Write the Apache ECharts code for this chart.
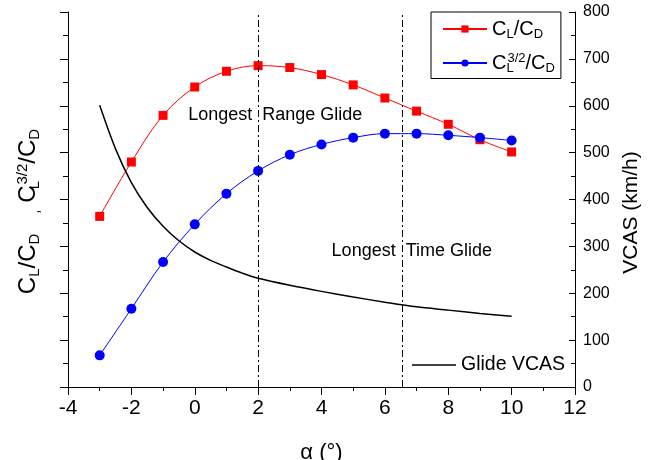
<!DOCTYPE html>
<html>
<head>
<meta charset="utf-8">
<title>Glide performance vs angle of attack</title>
<script src="https://cdn.jsdelivr.net/npm/echarts@6/dist/echarts.min.js"></script>
<style>
  html, body { margin: 0; padding: 0; background: #fff; }
  #chart { width: 671px; height: 460px; }
</style>
</head>
<body>
<div id="chart"></div>
<script>
// angle of attack (deg) for the two ratio curves
const alpha = [-3, -2, -1, 0, 1, 2, 3, 4, 5, 6, 7, 8, 9, 10];
// CL/CD and CL^1.5/CD, read against a hidden 0-16 left scale
const clcd = [7.28, 9.60, 11.59, 12.80, 13.47, 13.71, 13.63, 13.33, 12.89, 12.33, 11.77, 11.21, 10.55, 10.03];
const cl32cd = [1.35, 3.34, 5.33, 6.94, 8.25, 9.22, 9.91, 10.35, 10.64, 10.81, 10.81, 10.74, 10.64, 10.52];

// glide VCAS curve (km/h), right axis
const vcasAlpha = [-3, -2.5, -2, -1.5, -1, -0.5, 0, 0.5, 1, 1.5, 2, 3, 4, 5, 6, 7, 8, 9, 10];
const vcas = [601, 508, 436, 383, 343, 312, 288, 270, 256, 243, 232, 217, 204, 192, 181, 171, 164, 157, 151];

// vertical reference lines
const guideLines = [2, 6.55];

const FONT = 'Liberation Sans, Arial, sans-serif';

function pairs(xs, ys) {
  return xs.map((x, i) => [x, ys[i]]);
}

// rich text pieces for subscripts / superscripts
function richSet(size, sub, shift) {
  return {
    m: { fontSize: size, fontFamily: FONT, color: '#000' },
    s: { fontSize: sub, fontFamily: FONT, color: '#000', padding: [shift * 2, 0, 0, 0] },
    s0: { fontSize: sub, fontFamily: FONT, color: '#000', padding: [shift * 2, 0, 0, 0], width: 1, overflow: 'none' },
    p: { fontSize: sub, fontFamily: FONT, color: '#000', padding: [0, 0, shift * 2, 0] }
  };
}

const labelLD = '{m|C}{s|L}{m|/C}{s|D}';
const labelL32D = '{m|C}{s0|L}{p|3/2}{m|/C}{s|D}';

const chart = echarts.init(document.getElementById('chart'), null, { renderer: 'canvas' });

const option = {
  animation: false,
  backgroundColor: '#fff',
  textStyle: { fontFamily: FONT },
  grid: { left: 68, right: 96, top: 12, bottom: 73, outerBoundsMode: 'none' },
  legend: [
    {
      data: ['cl', 'cl32'],
      orient: 'vertical',
      left: 431,
      top: 12,
      padding: [7, 6, 4, 11],
      itemGap: 11,
      itemWidth: 44,
      itemHeight: 9,
      borderColor: '#000',
      borderWidth: 1,
      formatter: function (name) { return name === 'cl' ? labelLD : labelL32D; },
      textStyle: { rich: richSet(20, 13, 5) }
    },
    {
      data: [{ name: 'vcas', icon: 'rect' }],
      left: 407,
      top: 350,
      itemWidth: 44,
      itemHeight: 1.5,
      itemGap: 6,
      formatter: 'Glide VCAS',
      textStyle: { fontSize: 19.5, color: '#000', fontFamily: FONT }
    }
  ],
  xAxis: {
    type: 'value',
    min: -4,
    max: 12,
    interval: 2,
    name: 'α (°)',
    nameLocation: 'middle',
    nameGap: 55,
    nameTextStyle: { fontSize: 22, color: '#000', fontFamily: FONT },
    axisLine: { show: true, onZero: false, lineStyle: { color: '#000', width: 1 } },
    axisTick: { show: true, length: 8, lineStyle: { color: '#000' } },
    minorTick: { show: true, splitNumber: 2, length: 4, lineStyle: { color: '#000' } },
    splitLine: { show: false },
    axisLabel: { fontSize: 21, color: '#000', margin: 11, fontFamily: FONT }
  },
  yAxis: [
    {
      type: 'value',
      min: 0,
      max: 16,
      interval: 2,
      name: '{m|C}{s|L}{m|/C}{s|D}{m|   }{s|,}{m| C}{s0|L}{p|3/2}{m|/C}{s|D}',
      nameLocation: 'middle',
      nameGap: 26,
      nameTextStyle: { rich: richSet(24, 15, 6), padding: [0, 24, 0, 0] },
      axisLine: { show: true, onZero: false, lineStyle: { color: '#000', width: 1 } },
      axisTick: { show: true, length: 8, lineStyle: { color: '#000' } },
      minorTick: { show: true, splitNumber: 2, length: 5, lineStyle: { color: '#000' } },
      splitLine: { show: false },
      axisLabel: { show: false }
    },
    {
      type: 'value',
      position: 'right',
      min: 0,
      max: 800,
      interval: 100,
      name: 'VCAS (km/h)',
      nameLocation: 'middle',
      nameGap: 43,
      nameRotate: 90,
      nameTextStyle: { fontSize: 21, color: '#000', fontFamily: FONT, padding: [0, 26, 0, 0] },
      axisLine: { show: true, onZero: false, lineStyle: { color: '#000', width: 1 } },
      axisTick: { show: true, inside: true, length: 6, lineStyle: { color: '#000' } },
      minorTick: { show: true, splitNumber: 2, length: 4, lineStyle: { color: '#000' } },
      splitLine: { show: false },
      axisLabel: { fontSize: 16, color: '#000', margin: 8, fontFamily: FONT }
    }
  ],
  series: [
    {
      name: 'cl',
      type: 'line',
      yAxisIndex: 0,
      data: pairs(alpha, clcd),
      smooth: 0.35,
      symbol: 'rect',
      symbolSize: 9,
      color: '#ff0000',
      lineStyle: { color: '#ff0000', width: 1 },
      itemStyle: { color: '#ff0000' },
      markLine: {
        silent: true,
        symbol: ['none', 'none'],
        label: { show: false },
        lineStyle: { color: '#000', width: 1, type: [7, 3, 2, 3] },
        data: guideLines.map(v => ({ xAxis: v }))
      },
      markPoint: {
        silent: true,
        symbol: 'rect',
        symbolSize: 0,
        label: {
          show: true,
          position: 'inside',
          fontSize: 18,
          color: '#000',
          fontFamily: FONT,
          formatter: '{b}'
        },
        data: [
          { name: 'Longest  Range Glide', coord: [2.54, 11.62] },
          { name: 'Longest  Time Glide', coord: [6.85, 5.79] }
        ]
      }
    },
    {
      name: 'cl32',
      type: 'line',
      yAxisIndex: 0,
      data: pairs(alpha, cl32cd),
      smooth: 0.35,
      symbol: 'circle',
      symbolSize: 10,
      color: '#0000ff',
      lineStyle: { color: '#0000ff', width: 1 },
      itemStyle: { color: '#0000ff' }
    },
    {
      name: 'vcas',
      type: 'line',
      yAxisIndex: 1,
      data: pairs(vcasAlpha, vcas),
      smooth: 0.3,
      symbol: 'none',
      showSymbol: false,
      color: '#000',
      lineStyle: { color: '#000', width: 1.5 }
    }
  ]
};

chart.setOption(option);
</script>
</body>
</html>
